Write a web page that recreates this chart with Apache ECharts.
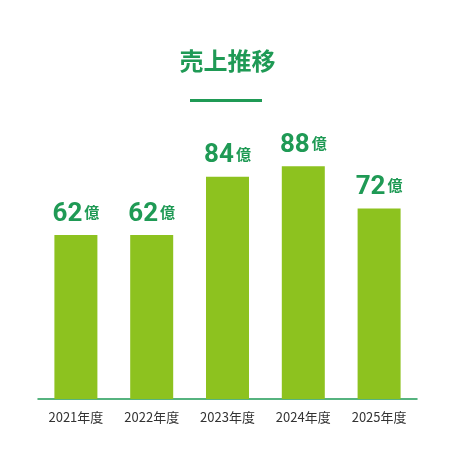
<!DOCTYPE html>
<html><head><meta charset="utf-8">
<script src="https://cdn.jsdelivr.net/npm/echarts@6/dist/echarts.min.js"></script>
<style>html,body{margin:0;padding:0;background:#fff}#c{width:455px;height:455px}</style>
</head><body><div id="c"></div>
<script>
const categories = ['2021年度','2022年度','2023年度','2024年度','2025年度'];
const sales = [62, 62, 84, 88, 72];
const unit = '億';
const chart = echarts.init(document.getElementById('c'));
chart.setOption({
  animation: false,
  title: {text: '売上推移', left: 'center', top: 44,
    textStyle: {color: '#1f9a55', fontSize: 24, fontWeight: 'bold', fontFamily: 'Noto Sans CJK JP'}},
  graphic: [{type: 'rect', shape: {x: 190, y: 99, width: 72, height: 3}, style: {fill: '#1f9a55'}}],
  grid: {left: 38, right: 38, top: 134.5, bottom: 56},
  xAxis: {type: 'category', data: categories,
    axisLine: {lineStyle: {color: '#1f9a55', width: 1.5}}, axisTick: {show: false},
    axisLabel: {color: '#333', fontSize: 13, margin: 12, fontFamily: 'Noto Sans CJK JP'}},
  yAxis: {type: 'value', min: 0, max: 100, show: false, splitLine: {show: false}},
  series: [{type: 'bar', data: sales, barWidth: 43, itemStyle: {color: '#8dc21f'},
    label: {show: true, position: 'top', distance: 8,
      formatter: p => '{n|' + p.value + '}{u|' + unit + '}',
      rich: {n: {color: '#1f9a55', fontSize: 26, fontWeight: 'bold', fontFamily: 'Roboto'},
             u: {color: '#1f9a55', fontSize: 15, fontWeight: 'bold', fontFamily: 'Noto Sans CJK JP', padding: [0,0,4,2]}}}}]
});
</script></body></html>
